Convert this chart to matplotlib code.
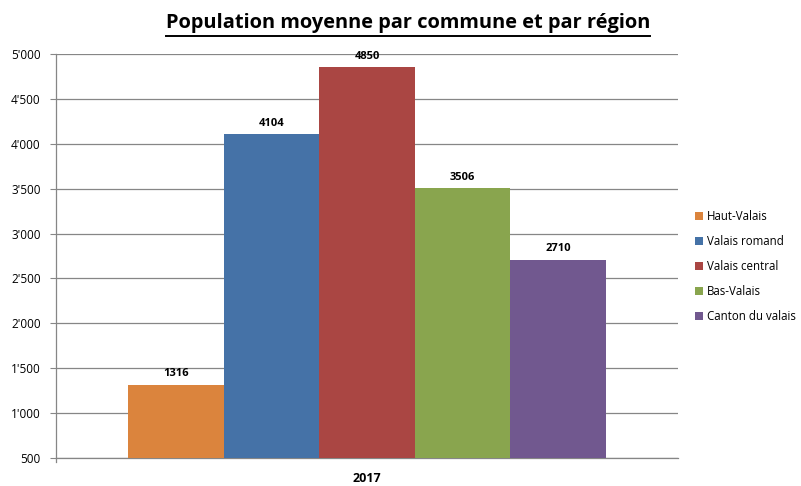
import matplotlib
matplotlib.use("Agg")
import matplotlib.pyplot as plt
from matplotlib.ticker import FuncFormatter
from matplotlib.lines import Line2D

plt.rcParams["font.family"] = ["Open Sans", "DejaVu Sans"]

title = "Population moyenne par commune et par région"
year = "2017"
regions = ["Haut-Valais", "Valais romand", "Valais central", "Bas-Valais", "Canton du valais"]
values = [1316, 4104, 4850, 3506, 2710]
colors = ["#DB843D", "#4572A7", "#AA4643", "#89A54E", "#71588F"]

fig = plt.figure(figsize=(8.01, 4.86), dpi=100)
ax = fig.add_axes([0.0699, 0.0576, 0.7765, 0.8313])

width = 0.7685 / len(values)
start = -width * len(values) / 2 + width / 2
for i, (name, v, c) in enumerate(zip(regions, values, colors)):
    x = start + i * width
    ax.bar(x, v - 500, width=width, bottom=500, color=c, label=name, zorder=3)
    ax.text(x, v + 60, str(v), ha="center", va="bottom", fontsize=8,
            fontweight="bold", zorder=4)

ax.set_xlim(-0.5, 0.5)
ax.set_ylim(500, 5000)
ax.set_yticks(range(500, 5001, 500))
ax.yaxis.set_major_formatter(FuncFormatter(lambda v, p: f"{int(v):,}".replace(",", "'")))
ax.set_xticks([0])
ax.set_xticklabels([year], fontweight="bold", fontsize=9)
ax.tick_params(axis="x", length=0, pad=10)
ax.tick_params(axis="y", labelsize=8.5, length=4, color="#868686", pad=7)
ax.grid(axis="y", color="#868686", linewidth=0.9, zorder=0)
for s in ["top", "right"]:
    ax.spines[s].set_visible(False)
for s in ["left", "bottom"]:
    ax.spines[s].set_color("#868686")
    ax.spines[s].set_linewidth(0.9)
ax.plot([-0.5, -0.5], [500, 460], color="#868686", lw=0.9, clip_on=False)

ax.legend(loc="center left", bbox_to_anchor=(1.01, 0.474), frameon=False,
          fontsize=8.3, handlelength=0.7, handleheight=0.7, handletextpad=0.35,
          labelspacing=1.05)

t = fig.text(0.509, 0.952, title, ha="center", va="center", fontsize=14.4,
             fontweight="bold")
fig.canvas.draw()
bb = t.get_window_extent(fig.canvas.get_renderer()).transformed(fig.transFigure.inverted())
fig.add_artist(Line2D([bb.x0, bb.x1], [bb.y0 - 0.006, bb.y0 - 0.006],
                      transform=fig.transFigure, color="black", lw=1.4))

fig.savefig("out.png", dpi=100)
